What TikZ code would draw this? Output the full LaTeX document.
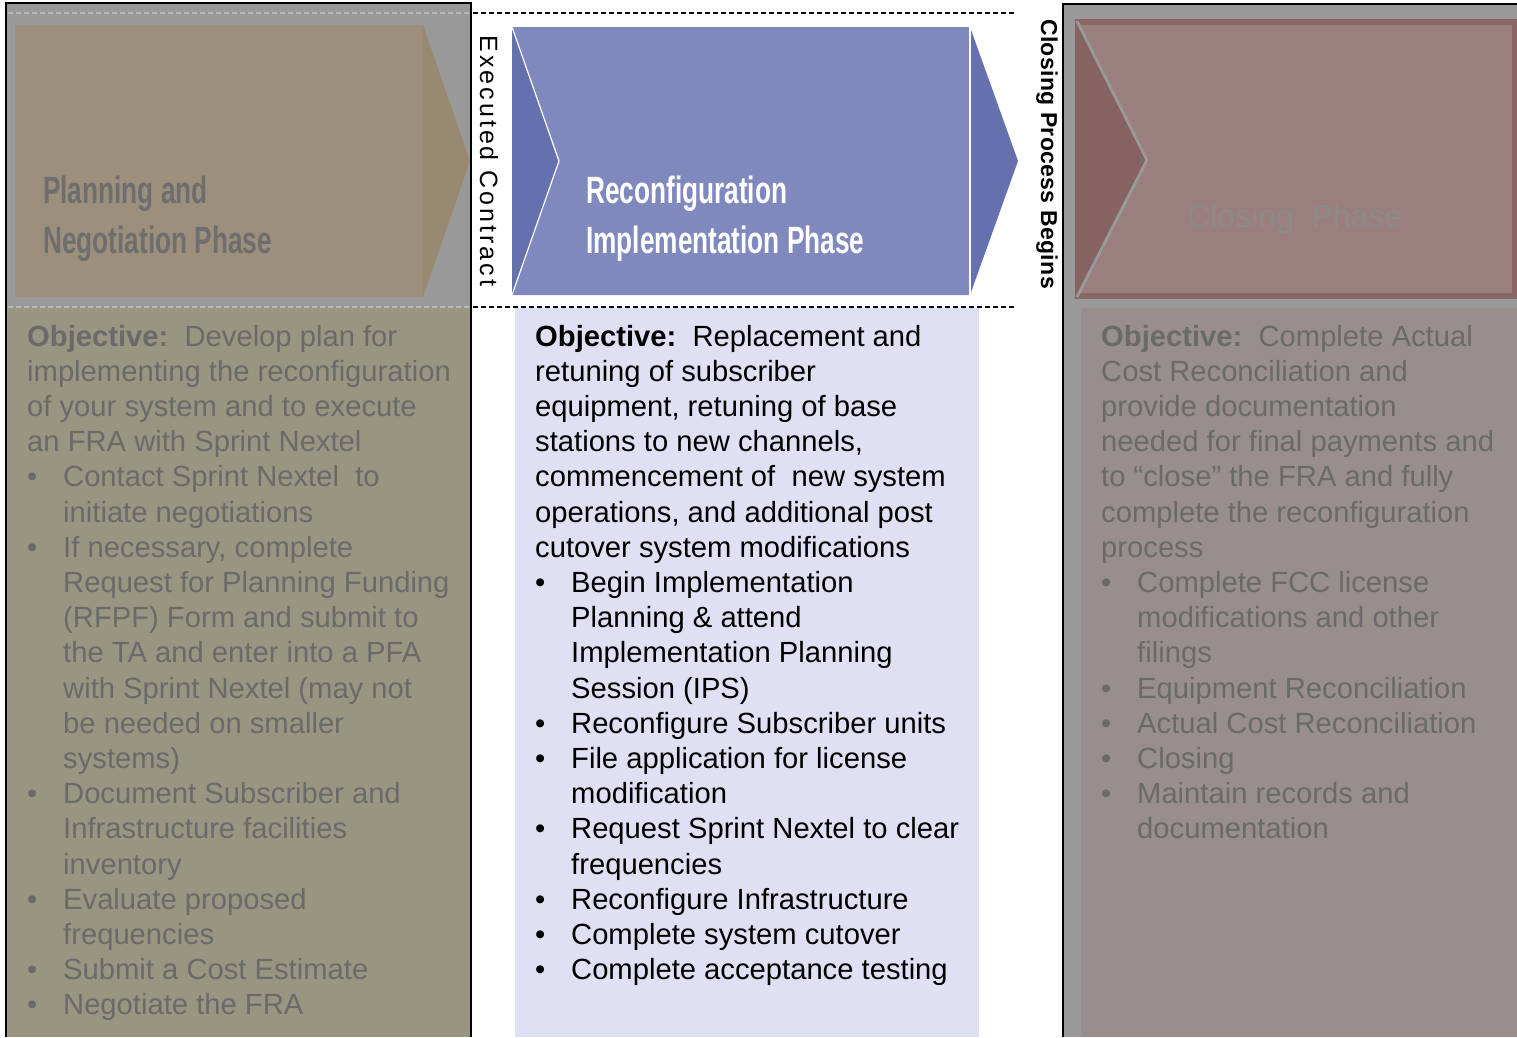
\documentclass[tikz,border=0pt]{standalone}
\usepackage{fontspec}
\setmainfont{Liberation Sans}
\newfontfamily\condfont[FakeStretch=0.69]{Liberation Sans}
\newfontfamily\spacedfont[LetterSpace=12]{Liberation Sans}
\newfontfamily\lightspaced[LetterSpace=1.5]{Liberation Sans}
\definecolor{panelgray}{HTML}{999999}
\definecolor{tanbody}{HTML}{9C907C}
\definecolor{tantip}{HTML}{978A70}
\definecolor{olivebody}{HTML}{989580}
\definecolor{fadetext}{HTML}{6A6A6A}
\definecolor{fadetitle}{HTML}{6E6E6E}
\definecolor{bluebody}{HTML}{7F89BE}
\definecolor{bluedark}{HTML}{6471AD}
\definecolor{lavender}{HTML}{E0E0F4}
\definecolor{roseborder}{HTML}{8A6767}
\definecolor{rosebody}{HTML}{9B7E7E}
\definecolor{rosedark}{HTML}{876262}
\definecolor{rosegray}{HTML}{988E8E}
\definecolor{rosetitle}{HTML}{8E8A8A}
\definecolor{lightdashcol}{HTML}{B8B8B8}
\newcommand{\bulitem}{\makebox[36pt][l]{\textbullet}}
\newcommand{\contl}{\hspace*{36pt}}
\tikzset{
  bodytext/.style={anchor=base west, inner sep=0pt},
  titletext/.style={anchor=base west, inner sep=0pt},
  blackdash/.style={draw=black, line width=2pt, dash pattern=on 5pt off 3pt},
  lightdash/.style={draw=lightdashcol, line width=1.2pt, dash pattern=on 5pt off 3pt},
  frameline/.style={draw=black, line width=2.5pt}
}
\begin{document}
\begin{tikzpicture}[x=1pt,y=-1pt]
\useasboundingbox (0,0) rectangle (1517,1037);
\fill[white] (0,0) rectangle (1517,1037);

% ---------- left panel ----------
\fill[panelgray] (6,3) rectangle (471,1037);
\fill[olivebody] (8,307) rectangle (470,1037);
\fill[tanbody] (15,25) rectangle (423,297);
\fill[tantip] (423,25) -- (470,161) -- (423,297) -- cycle;
\draw[lightdash] (8,13) -- (470,13);
\draw[lightdash] (8,307) -- (470,307);
\draw[frameline] (6,1037) -- (6,3) -- (471,3) -- (471,1037);

\node[titletext, text=fadetitle] (lefttitle) at (43,203)
  {\begin{minipage}[t]{400pt}\condfont\bfseries\fontsize{38}{50}\selectfont
   Planning and\\Negotiation Phase\end{minipage}};

\node[bodytext, text=fadetext] (lefttext) at (27,346)
  {\begin{minipage}[t]{440pt}\fontsize{29.2}{35.2}\selectfont\raggedright
  \textbf{Objective:}\ \ Develop plan for\\
  implementing the reconfiguration\\
  of your system and to execute\\
  an FRA with Sprint Nextel\\
  \bulitem Contact Sprint Nextel\ \ to\\
  \contl initiate negotiations\\
  \bulitem If necessary, complete\\
  \contl Request for Planning Funding\\
  \contl (RFPF) Form and submit to\\
  \contl the TA and enter into a PFA\\
  \contl with Sprint Nextel (may not\\
  \contl be needed on smaller\\
  \contl systems)\\
  \bulitem Document Subscriber and\\
  \contl Infrastructure facilities\\
  \contl inventory\\
  \bulitem Evaluate proposed\\
  \contl frequencies\\
  \bulitem Submit a Cost Estimate\\
  \bulitem Negotiate the FRA
  \end{minipage}};

% ---------- middle panel ----------
\fill[lavender] (515,308) rectangle (979,1037);
\draw[blackdash] (473,13) -- (1015,13);
\draw[blackdash] (473,307) -- (1015,307);
\fill[bluedark] (512,27) rectangle (970,295);
\fill[bluebody] (512,27) -- (970,27) -- (970,295) -- (512,295) -- (559,161) -- cycle;
\fill[bluedark] (970,27) -- (1018,161) -- (970,295) -- cycle;
\draw[white, line width=1.2pt] (512,27) -- (559,161) -- (512,295);
\draw[white, line width=1.2pt] (970,27) -- (970,295);

\node[titletext, text=white] (midtitle) at (586,203)
  {\begin{minipage}[t]{400pt}\condfont\bfseries\fontsize{38}{50}\selectfont
   Reconfiguration\\Implementation Phase\end{minipage}};

\node[rotate=-90, inner sep=0pt] (exec) at (489,161)
  {\spacedfont\fontsize{25}{25}\selectfont Executed Contract};

\node[bodytext, text=black] (midtext) at (535,346)
  {\begin{minipage}[t]{440pt}\fontsize{29.2}{35.2}\selectfont\raggedright
  \textbf{Objective:}\ \ Replacement and\\
  retuning of subscriber\\
  equipment, retuning of base\\
  stations to new channels,\\
  commencement of\ \ new system\\
  operations, and additional post\\
  cutover system modifications\\
  \bulitem Begin Implementation\\
  \contl Planning \& attend\\
  \contl Implementation Planning\\
  \contl Session (IPS)\\
  \bulitem Reconfigure Subscriber units\\
  \bulitem File application for license\\
  \contl modification\\
  \bulitem Request Sprint Nextel to clear\\
  \contl frequencies\\
  \bulitem Reconfigure Infrastructure\\
  \bulitem Complete system cutover\\
  \bulitem Complete acceptance testing
  \end{minipage}};

\node[rotate=-90, inner sep=0pt] (closebegins) at (1047,154)
  {\lightspaced\bfseries\fontsize{23}{23}\selectfont Closing Process Begins};

% ---------- right panel ----------
\fill[panelgray] (1063,4) rectangle (1517,1037);
\fill[rosegray] (1081,308) rectangle (1517,1037);
\fill[roseborder] (1075,19) rectangle (1517,299);
\fill[rosebody] (1081,25) rectangle (1512,293);
\fill[rosedark] (1075,19) -- (1147,160) -- (1075,299) -- cycle;
\draw[panelgray, line width=3pt] (1077,21) -- (1147,160) -- (1077,297);
\draw[frameline] (1063,1037) -- (1063,4) -- (1517,4);

\node[titletext, text=rosetitle] (righttitle) at (1187,227)
  {\fontsize{32}{32}\selectfont Closing\ \ Phase};

\node[bodytext, text=fadetext] (righttext) at (1101,346)
  {\begin{minipage}[t]{420pt}\fontsize{29.2}{35.2}\selectfont\raggedright
  \textbf{Objective:}\ \ Complete Actual\\
  Cost Reconciliation and\\
  provide documentation\\
  needed for final payments and\\
  to “close” the FRA and fully\\
  complete the reconfiguration\\
  process\\
  \bulitem Complete FCC license\\
  \contl modifications and other\\
  \contl filings\\
  \bulitem Equipment Reconciliation\\
  \bulitem Actual Cost Reconciliation\\
  \bulitem Closing\\
  \bulitem Maintain records and\\
  \contl documentation
  \end{minipage}};
\end{tikzpicture}
\end{document}
